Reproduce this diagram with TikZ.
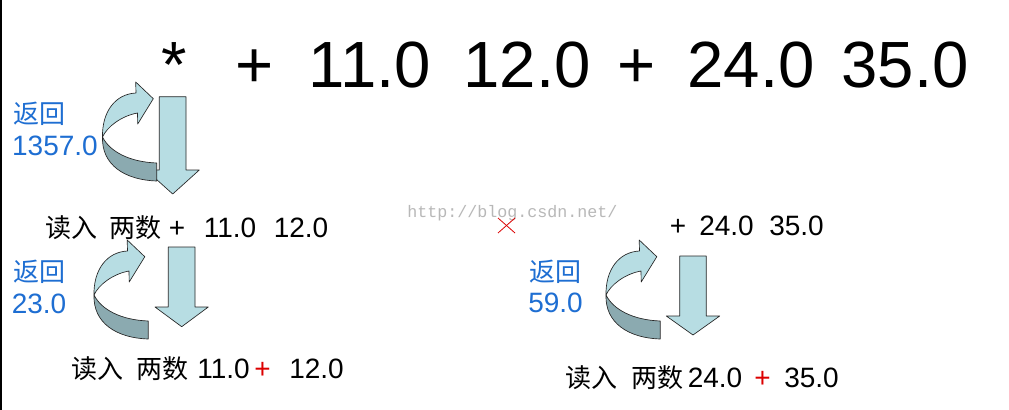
\documentclass[tikz,border=0pt]{standalone}
\usepackage{fontspec}
\setmainfont{Liberation Sans}
\newfontfamily\cjk{Noto Sans CJK SC}
\newfontfamily\wmfont{Liberation Mono}
\definecolor{arrlight}{RGB}{183,221,227}
\definecolor{arrdark}{RGB}{139,170,176}
\definecolor{retblue}{RGB}{30,110,210}
\definecolor{opred}{RGB}{220,0,0}
\tikzset{
  txt/.style={inner sep=0pt, anchor=base},
  bigt/.style={txt, font=\fontsize{49}{50}\selectfont},
  midt/.style={txt, font=\fontsize{21}{24}\selectfont},
  cjkt/.style={txt, font=\cjk\fontsize{19.5}{24}\selectfont},
  bluet/.style={txt, text=retblue, font=\fontsize{21}{24}\selectfont},
  bluecjk/.style={txt, text=retblue, font=\cjk\fontsize{19.5}{24}\selectfont},
  redt/.style={midt, text=opred},
  arrline/.style={draw=black!85, line width=0.5pt, line join=round},
  downarr/.style={arrline, fill=arrlight},
  curvarrow/.pic={
    \draw[arrline, fill=arrlight] (136,93) .. controls (115,94) and (102,112) .. (102.5,137)
      .. controls (107,127) and (121,116) .. (137.5,113) -- (137.7,124) -- (153.3,98.7) -- (135.7,82) -- cycle;
    \draw[arrline, fill=arrdark] (102.5,137) .. controls (101.5,165) and (125,180) .. (156.7,181)
      -- (156.7,163) .. controls (130,162) and (110,152) .. (102.5,137) -- cycle;
  }
}
\begin{document}
\begin{tikzpicture}[x=0.75pt,y=-0.75pt]
\useasboundingbox[fill=white] (0,0) rectangle (1009,410);
\draw[line width=1.5pt] (1,0) -- (1,410);

% top expression
\node[bigt] (star) at (174,87) {*};
\node[bigt] (p1) at (255,87) {+};
\node[bigt] (n11) at (370,87) {11.0};
\node[bigt] (n12) at (527,87) {12.0};
\node[bigt] (p2) at (637,87) {+};
\node[bigt] (n24) at (751,87) {24.0};
\node[bigt] (n35) at (905,87) {35.0};

% group 1
\draw[downarr] (159.3,96.7) -- (186,96.7) -- (186,170) -- (199.3,170) -- (172.7,194) -- (146,170) -- (159.3,170) -- cycle;
\pic at (0,0) {curvarrow};
\node[bluecjk] (r1a) at (39,123) {返回};
\node[bluet] (r1b) at (55,155) {1357.0};
\node[cjkt] (g1a) at (71,237) {读入};
\node[cjkt] (g1b) at (135,237) {两数};
\node[midt] (g1c) at (177,237) {+};
\node[midt] (g1d) at (230,237) {11.0};
\node[midt] (g1e) at (301,237) {12.0};

% group 2
\draw[downarr] (168.3,247) -- (195,247) -- (195,307) -- (208.3,307) -- (181.7,326.7) -- (155,307) -- (168.3,307) -- cycle;
\pic at (-8.5,158) {curvarrow};
\node[bluecjk] (r2a) at (39,281) {返回};
\node[bluet] (r2b) at (39,313) {23.0};
\node[cjkt] (g2a) at (97.5,378) {读入};
\node[cjkt] (g2b) at (162,378) {两数};
\node[midt] (g2c) at (223.5,378) {11.0};
\node[redt] (g2d) at (262.5,378) {+};
\node[midt] (g2e) at (316.5,378) {12.0};

% group 3
\node[midt] (g3p) at (678,235) {+};
\node[midt] (g3x) at (726.5,235) {24.0};
\node[midt] (g3y) at (796.5,235) {35.0};
\draw[downarr] (679.7,256) -- (706.3,256) -- (706.3,316) -- (719.7,316) -- (693,335) -- (666.3,316) -- (679.7,316) -- cycle;
\pic at (503.5,158) {curvarrow};
\node[bluecjk] (r3a) at (555.5,281) {返回};
\node[bluet] (r3b) at (555.5,312) {59.0};
\node[cjkt] (g3a) at (591.5,387) {读入};
\node[cjkt] (g3b) at (657,387) {两数};
\node[midt] (g3c) at (715,387) {24.0};
\node[redt] (g3d) at (762.5,387) {+};
\node[midt] (g3e) at (811.5,387) {35.0};

% watermark and red cross
\node[txt, anchor=base west, text=black!28, font=\wmfont\fontsize{12.5}{14}\selectfont] (wm) at (407,217) {http://blog.csdn.net/};
\draw[opred, line width=0.6pt] (498,218) -- (515,233);
\draw[opred, line width=0.6pt] (498,233) -- (515,218);
\end{tikzpicture}
\end{document}
